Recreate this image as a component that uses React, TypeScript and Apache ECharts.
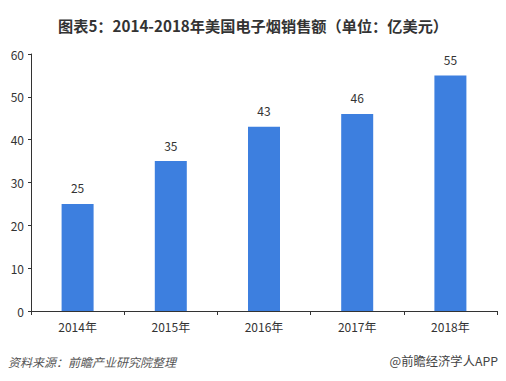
import React, { useEffect, useRef } from "react";
import * as echarts from "echarts";

const categories = ["2014年", "2015年", "2016年", "2017年", "2018年"];
const values = [25, 35, 43, 46, 55];
const titleText = "图表5：2014-2018年美国电子烟销售额（单位：亿美元）";
const sourceText = "资料来源：前瞻产业研究院整理";
const brandText = "@前瞻经济学人APP";

const FONT = "'Noto Sans CJK SC', 'Noto Sans', sans-serif";

export default function App() {
  const ref = useRef<HTMLDivElement>(null);
  useEffect(() => {
    if (!ref.current) return;
    const chart = echarts.init(ref.current, undefined, { renderer: "svg" });
    chart.setOption({
      animation: false,
      backgroundColor: "#ffffff",
      title: {
        text: titleText,
        left: "center",
        top: 12,
        textStyle: { fontFamily: FONT, fontSize: 15.2, fontWeight: "bold", color: "#333333" },
      },
      grid: { left: 31, right: 9, top: 54, bottom: 70, containLabel: false },
      xAxis: {
        type: "category",
        data: categories,
        axisLine: { lineStyle: { color: "#333333", width: 1 } },
        axisTick: { show: true, length: 4, lineStyle: { color: "#333333" } },
        axisLabel: { fontFamily: FONT, fontSize: 12, color: "#333333", margin: 9 },
      },
      yAxis: {
        type: "value",
        min: 0,
        max: 60,
        interval: 10,
        splitLine: { show: false },
        axisLine: { show: true, lineStyle: { color: "#333333", width: 1 } },
        axisTick: { show: true, length: 3, lineStyle: { color: "#333333" } },
        axisLabel: { fontFamily: FONT, fontSize: 12, color: "#333333", margin: 7 },
      },
      series: [
        {
          type: "bar",
          data: values,
          barWidth: 32,
          itemStyle: { color: "#3d7fdf" },
          label: {
            show: true,
            position: "top",
            distance: 10,
            fontFamily: FONT,
            fontSize: 12,
            color: "#333333",
          },
        },
      ],
      graphic: [
        {
          type: "text",
          left: 8,
          top: 355,
          style: {
            text: sourceText,
            fontFamily: FONT,
            fontSize: 12,
            fontStyle: "italic",
            fill: "#555555",
          },
        },
        {
          type: "text",
          right: 8,
          top: 355,
          style: {
            text: brandText,
            fontFamily: FONT,
            fontSize: 12.3,
            fill: "#444444",
          },
        },
      ],
    });
    return () => chart.dispose();
  }, []);
  return <div ref={ref} style={{ width: 506, height: 381, position: "absolute", left: 0, top: 0 }} />;
}
